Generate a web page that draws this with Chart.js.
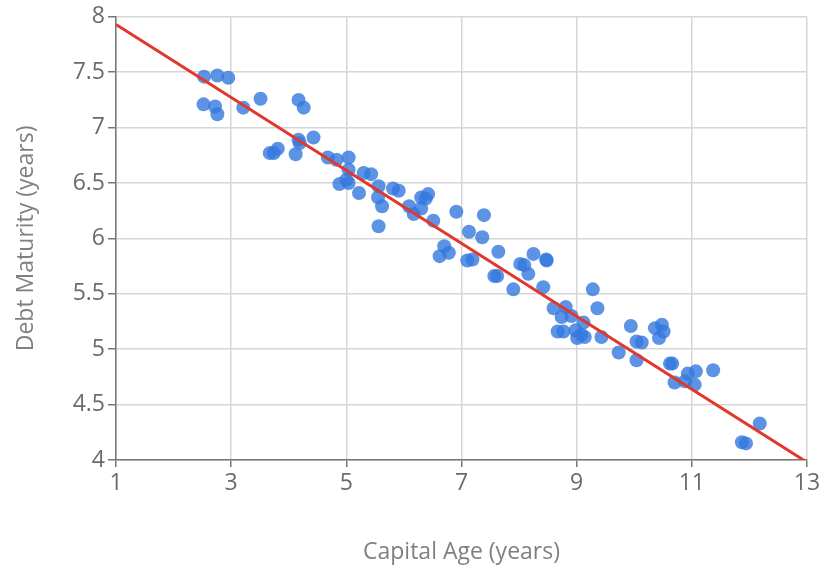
<!DOCTYPE html>
<html>
<head>
<meta charset="utf-8">
<script src="https://cdn.jsdelivr.net/npm/chart.js@4"></script>
<style>
  html, body { margin: 0; padding: 0; background: #fff; }
  #wrap { width: 824px; height: 571px; }
</style>
</head>
<body>
<div id="wrap"><canvas id="chart" width="824" height="571"></canvas></div>
<script>
// Capital age (x) vs debt maturity (y)
const capitalAge = [
  2.53, 2.76, 2.95, 2.52, 2.72, 2.76, 3.21, 3.51, 4.17, 4.26,
  3.67, 3.74, 3.81, 4.12, 4.17, 4.19, 4.43, 4.68, 4.83, 5.04,
  5.04, 4.88, 5.04, 5.22, 5.30, 5.43, 5.56, 5.55, 5.62, 5.56,
  5.81, 5.91, 6.09, 6.17, 6.30, 6.30, 6.42, 6.38, 6.51, 6.91,
  7.13, 7.39, 7.36, 6.70, 6.62, 6.78, 7.10, 7.19, 7.64, 7.57,
  7.62, 7.90, 8.02, 8.09, 8.16, 8.25, 8.47, 8.48, 8.42, 8.60,
  8.81, 8.74, 8.91, 9.12, 9.28, 9.36, 8.67, 8.77, 9.01, 9.08,
  9.14, 9.43, 9.73, 9.94, 10.04, 10.13, 10.04, 10.36, 10.48, 10.51,
  10.43, 10.62, 10.70, 10.93, 11.07, 11.05, 10.88, 11.37, 12.18, 11.87,
  11.94, 10.66, 8.98, 5.00
];
const debtMaturity = [
  7.46, 7.47, 7.45, 7.21, 7.19, 7.12, 7.18, 7.26, 7.25, 7.18,
  6.77, 6.77, 6.81, 6.76, 6.89, 6.86, 6.91, 6.73, 6.71, 6.73,
  6.62, 6.49, 6.50, 6.41, 6.59, 6.58, 6.47, 6.37, 6.29, 6.11,
  6.45, 6.43, 6.29, 6.22, 6.37, 6.27, 6.40, 6.36, 6.16, 6.24,
  6.06, 6.21, 6.01, 5.93, 5.84, 5.87, 5.80, 5.81, 5.88, 5.66,
  5.66, 5.54, 5.77, 5.76, 5.68, 5.86, 5.81, 5.80, 5.56, 5.37,
  5.38, 5.29, 5.30, 5.24, 5.54, 5.37, 5.16, 5.16, 5.10, 5.13,
  5.11, 5.11, 4.97, 5.21, 5.07, 5.06, 4.90, 5.19, 5.22, 5.16,
  5.10, 4.87, 4.70, 4.78, 4.80, 4.68, 4.71, 4.81, 4.33, 4.16,
  4.15, 4.87, 5.17, 6.53
];
// fitted trend line end points
const trendX = [1, 13];
const trendY = [7.93, 3.98];

const fontFamily = '"Segoe UI", "Open Sans", "Noto Sans", sans-serif';

const points = capitalAge.map((x, i) => ({ x: x, y: debtMaturity[i] }));
const trend = trendX.map((x, i) => ({ x: x, y: trendY[i] }));

new Chart(document.getElementById('chart').getContext('2d'), {
    type: 'scatter',
    data: {
        datasets: [
            {
                type: 'line',
                data: trend,
                borderColor: '#e2382c',
                borderWidth: 3,
                pointRadius: 0,
                fill: false,
                order: 0
            },
            {
                data: points,
                backgroundColor: 'rgba(52, 120, 222, 0.8)',
                borderWidth: 0,
                pointRadius: 7,
                pointHoverRadius: 7,
                order: 1
            }
        ]
    },
    options: {
        responsive: false,
        animation: false,
        layout: { padding: { top: 1, right: 17, bottom: 5, left: 13 } },
        plugins: {
            legend: { display: false },
            tooltip: { enabled: false }
        },
        scales: {
            x: {
                type: 'linear',
                min: 1,
                max: 13,
                ticks: {
                    stepSize: 2,
                    color: '#6b6b6b',
                    font: { family: fontFamily, size: 23 },
                    padding: 3
                },
                grid: { color: '#d6d6d6', lineWidth: 1.5, tickColor: '#777', tickLength: 7 },
                border: { color: '#777', width: 1.5 },
                title: {
                    display: true,
                    text: 'Capital Age (years)',
                    color: '#808080',
                    font: { family: fontFamily, size: 23 },
                    padding: { top: 39, bottom: 0 }
                },
                afterFit: scale => { scale.height = 106; }
            },
            y: {
                min: 4,
                max: 8,
                ticks: {
                    stepSize: 0.5,
                    color: '#6b6b6b',
                    font: { family: fontFamily, size: 23 },
                    padding: 3,
                    callback: v => String(v)
                },
                grid: { color: '#d6d6d6', lineWidth: 1.5, tickColor: '#777', tickLength: 8 },
                border: { color: '#777', width: 1.5 },
                title: {
                    display: true,
                    text: 'Debt Maturity (years)',
                    color: '#808080',
                    font: { family: fontFamily, size: 23 },
                    padding: { top: 0, bottom: 30 }
                },
                afterFit: scale => { scale.width = 103; }
            }
        }
    }
});
</script>
</body>
</html>
